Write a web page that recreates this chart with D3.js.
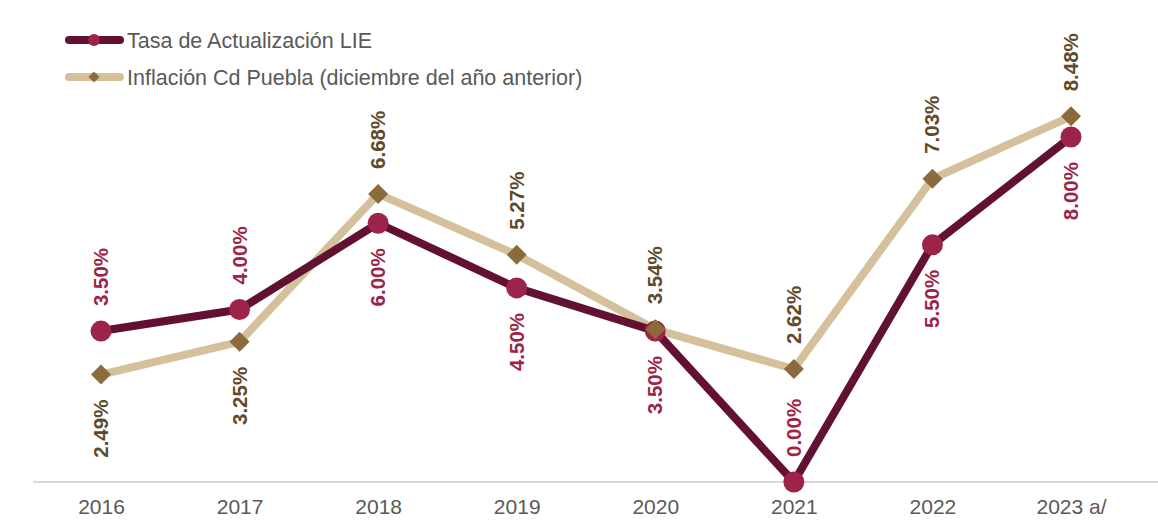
<!DOCTYPE html>
<html>
<head>
<meta charset="utf-8">
<script src="https://cdn.jsdelivr.net/npm/d3@7"></script>
<style>
  body { margin: 0; background: #fff; }
  svg { font-family: "Liberation Sans", Arial, sans-serif; }
</style>
</head>
<body>
<div id="chart"></div>
<script>
// chart data
var years = ["2016", "2017", "2018", "2019", "2020", "2021", "2022", "2023 a/"];
var tasaLIE = [3.50, 4.00, 6.00, 4.50, 3.50, 0.00, 5.50, 8.00];
var inflacion = [2.49, 3.25, 6.68, 5.27, 3.54, 2.62, 7.03, 8.48];
// which side the labels go: 1 = above, -1 = below
var tasaSide = [1, 1, -1, -1, -1, 1, -1, -1];
var inflSide = [-1, -1, 1, 1, 1, 1, 1, 1];

var width = 1158, height = 531;
var svg = d3.select("#chart").append("svg")
  .attr("width", width)
  .attr("height", height);

var x = d3.scalePoint()
  .domain(years)
  .range([101, 1071]);

var y = d3.scaleLinear()
  .domain([0, 8])
  .range([482, 137]);

// axis line
svg.append("line")
  .attr("x1", 33).attr("x2", 1158)
  .attr("y1", y(0)).attr("y2", y(0))
  .style("stroke", "#d9d9d9")
  .style("stroke-width", 2);

var xAxis = svg.append("g")
  .attr("transform", "translate(0," + y(0) + ")")
  .call(d3.axisBottom(x).tickSize(0).tickPadding(0));
xAxis.select(".domain").remove();
xAxis.selectAll("text")
  .attr("y", 32)
  .attr("dy", 0)
  .style("font-size", "21px")
  .style("fill", "#595959")
  .style("font-family", "Liberation Sans, Arial, sans-serif");

var line = d3.line()
  .x(function(d, i) { return x(years[i]); })
  .y(function(d) { return y(d); });

// inflation series (drawn first, behind)
svg.append("path")
  .datum(inflacion)
  .attr("d", line)
  .style("fill", "none")
  .style("stroke", "#d4c19c")
  .style("stroke-width", 8)
  .style("stroke-linejoin", "round");

svg.append("path")
  .datum(tasaLIE)
  .attr("d", line)
  .style("fill", "none")
  .style("stroke", "#621132")
  .style("stroke-width", 8)
  .style("stroke-linejoin", "round");

svg.selectAll(".dot")
  .data(tasaLIE)
  .enter()
  .append("circle")
  .attr("cx", function(d, i) { return x(years[i]); })
  .attr("cy", function(d) { return y(d); })
  .attr("r", 10.5)
  .style("fill", "#9d2449");

var diamond = d3.symbol().type(d3.symbolSquare).size(200);
svg.selectAll(".diam")
  .data(inflacion)
  .enter()
  .append("path")
  .attr("d", diamond)
  .attr("transform", function(d, i) {
    return "translate(" + x(years[i]) + "," + y(d) + ") rotate(45)";
  })
  .style("fill", "#8b6b3e");

// rotated value labels
function addLabels(values, sides, color) {
  svg.selectAll(null)
    .data(values)
    .enter()
    .append("text")
    .attr("transform", function(d, i) {
      var px = x(years[i]), py = y(d) - sides[i] * 25;
      return "translate(" + (px + 7) + "," + py + ") rotate(-90)";
    })
    .attr("text-anchor", function(d, i) { return sides[i] > 0 ? "start" : "end"; })
    .style("font-size", "20.5px")
    .style("font-weight", "bold")
    .style("fill", color)
    .text(function(d) { return d.toFixed(2) + "%"; });
}
addLabels(tasaLIE, tasaSide, "#9d2449");
addLabels(inflacion, inflSide, "#5e4a2b");

// legend
var legend = [
  {name: "Tasa de Actualización LIE", line: "#621132", mark: "#9d2449", type: "circle"},
  {name: "Inflación Cd Puebla (diciembre del año anterior)", line: "#d4c19c", mark: "#8b6b3e", type: "diamond"}
];
var lg = svg.selectAll(".leg")
  .data(legend)
  .enter()
  .append("g")
  .attr("transform", function(d, i) { return "translate(0," + (40 + i * 37) + ")"; });
lg.append("line")
  .attr("x1", 69).attr("x2", 120)
  .attr("y1", 0).attr("y2", 0)
  .style("stroke", function(d) { return d.line; })
  .style("stroke-width", 8)
  .style("stroke-linecap", "round");
lg.append("path")
  .attr("d", function(d) {
    return d.type == "circle" ? d3.symbol().type(d3.symbolCircle).size(110)() : d3.symbol().type(d3.symbolSquare).size(60)();
  })
  .attr("transform", function(d) { return "translate(94,0)" + (d.type == "circle" ? "" : " rotate(45)"); })
  .style("fill", function(d) { return d.mark; });
lg.append("text")
  .attr("x", 127)
  .attr("y", 7.5)
  .style("font-size", "21.5px")
  .style("fill", "#595959")
  .text(function(d) { return d.name; });
</script>
</body>
</html>
